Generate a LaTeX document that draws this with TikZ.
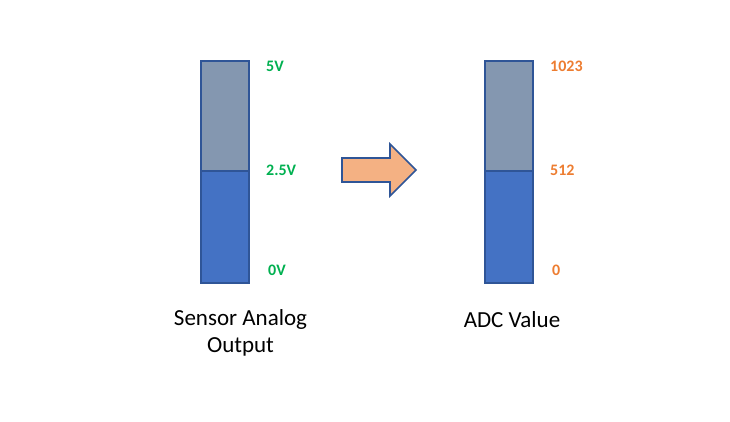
\documentclass[tikz,border=0pt]{standalone}
\usepackage{fontspec}
\setmainfont{Carlito}
\usetikzlibrary{positioning}
\definecolor{barTop}{HTML}{8497B0}
\definecolor{barLow}{HTML}{4472C4}
\definecolor{barEdge}{HTML}{2F5597}
\definecolor{voltGreen}{HTML}{00B050}
\definecolor{adcOrange}{HTML}{ED7D31}
\definecolor{arrowFill}{HTML}{F4B183}
\tikzset{
  volt/.style={anchor=west, font=\fontsize{16}{18}\selectfont\bfseries, text=voltGreen, inner sep=0pt},
  adc/.style={anchor=west, font=\fontsize{16}{18}\selectfont\bfseries, text=adcOrange, inner sep=0pt},
  caption/.style={font=\fontsize{23}{27}\selectfont, align=center, inner sep=0pt},
}

\begin{document}
\begin{tikzpicture}[x=1pt, y=-1pt]
\useasboundingbox (0,0) rectangle (730,422);
% sensor bar
\fill [barTop] (201,61) rectangle (249,171);
\fill [barLow] (201,171) rectangle (249,283);
\draw [barEdge, line width=1.6pt] (201,61) rectangle (249,283);
\draw [barEdge, line width=1.6pt] (201,171) -- (249,171);
\node (v5) at (266,66) [volt] {5V};
\node (v25) at (266,170) [volt] {2.5V};
\node (v0) at (268,270) [volt] {0V};
% adc bar
\fill [barTop] (485,61) rectangle (533,171);
\fill [barLow] (485,171) rectangle (533,283);
\draw [barEdge, line width=1.6pt] (485,61) rectangle (533,283);
\draw [barEdge, line width=1.6pt] (485,171) -- (533,171);
\node (a1023) at (550,66) [adc] {1023};
\node (a512) at (550,170) [adc] {512};
\node (a0) at (552,270) [adc] {0};
% block arrow
\draw [barEdge, fill=arrowFill, line width=1.6pt, line join=miter]
  (342,158) -- (390,158) -- (390,144) -- (416,170) -- (390,196) -- (390,182) -- (342,182) -- cycle;
% captions
\node (sensor) at (240.5,333) [caption] {Sensor Analog\\Output};
\node (adcval) at (512,320) [caption] {ADC Value};
\end{tikzpicture}
\end{document}
